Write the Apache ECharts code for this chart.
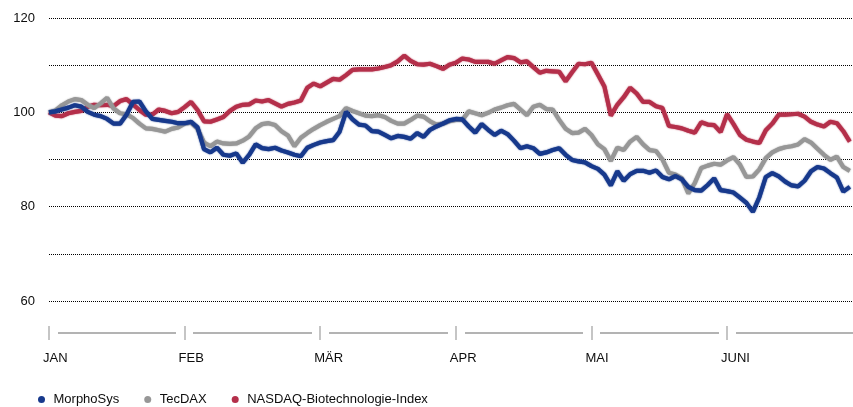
<!DOCTYPE html>
<html>
<head>
<meta charset="utf-8">
<script src="https://cdn.jsdelivr.net/npm/echarts@6/dist/echarts.min.js"></script>
<style>
html,body{margin:0;padding:0;background:#fff;}
#chart{width:853px;height:407px;}
</style>
</head>
<body>
<div id="chart"></div>
<script>
// Trading-day index of each month start and month labels
const monthStarts = [0, 21, 42, 63, 84, 105];
const monthLabels = ['JAN', 'FEB', 'MÄR', 'APR', 'MAI', 'JUNI'];
const axisMax = 124.5;
const yTicks = [60, 80, 100, 120];

const seriesNames = ['MorphoSys', 'TecDAX', 'NASDAQ-Biotechnologie-Index'];

const morphoSys = [100,100.2,100.6,101,101.5,101.2,100.1,99.5,99.2,98.6,97.6,97.6,99.5,102.2,102.3,100.2,98.6,98.4,98.2,98,
97.7,97.7,98,96.8,92.2,91.5,92.5,91,90.8,91.3,89.3,91,93.2,92.4,92.2,92.5,91.9,91.5,91,90.7,
92.5,93.1,93.6,93.9,94.1,95.9,100.1,98.5,97.4,97.2,96,95.9,95.2,94.5,95,94.8,94.4,95.6,94.8,96.3,
97,97.6,98.3,98.6,98.5,97,95.7,97.5,96.3,95.2,96.1,95.4,94,92.4,92.8,92.4,91.2,91.5,92,92.4,
91,89.9,89.6,89.4,88.6,88,86.8,84.5,87.5,85.5,86.9,87.6,87.6,87.2,87.7,86.3,85.8,86.5,85.8,84.2,
83.5,83.4,84.6,86,83.5,83.3,83,81.9,80.8,78.9,82,86.3,87.1,86.4,85.3,84.5,84.3,85.5,87.5,88.4,
88.1,87.1,86.2,83.2,84.2];

const tecDAX = [100,100.4,101.5,102.3,102.8,102.6,101.6,100.9,101.9,103.1,100.8,99.8,99.6,98.8,97.6,96.6,96.5,96.2,95.9,96.5,
96.8,97.6,97.8,96.5,93.6,92.8,93.8,93.4,93.3,93.4,94,94.9,96.6,97.5,97.7,97.3,96,95.1,92.8,94.6,
95.6,96.5,97.3,98,98.6,99.2,100.9,100.3,99.8,99.3,99.2,99.4,99,98.2,97.6,97.6,98.4,99.3,99.1,98.1,
97.4,97.6,98.1,98.4,98.4,100.2,99.8,99.4,99.9,100.6,101,101.5,101.8,100.6,99.4,101.2,101.6,100.7,100.6,98.4,
96.5,95.6,95.7,96.5,95.2,93.2,92.2,89.7,92.5,92,93.8,94.8,93.2,92,91.8,90,87.2,86.8,86,82.8,
85,88.2,88.7,89.1,88.9,89.8,90.5,88.9,86.3,86.4,87.9,90.3,91.5,92.2,92.6,92.8,93.2,94.3,93.6,92.3,
91,89.9,90.6,88.4,87.6];

const nasdaqBiotech = [100,99.3,99.2,99.8,100.1,100.3,101.2,101.6,101.5,101.6,101.3,102.4,102.8,101.7,100.5,99.5,99.5,100.6,100.3,99.8,
100.1,101.1,102.2,100.5,98.1,98,98.5,99,100.3,101.2,101.6,101.7,102.5,102.3,102.6,101.9,101.2,101.8,102.1,102.5,
105.2,106.1,105.5,106.3,107.1,106.9,107.9,109,109.1,109.1,109.1,109.3,109.6,110,110.8,112,110.9,110.2,110.1,110.3,
109.8,109.2,110.1,110.5,111.4,111.2,110.7,110.7,110.7,110.3,111,111.7,111.5,110.6,110.8,109.6,108.4,108.8,108.7,108.6,
106.6,108.5,110.3,110.2,110.5,108,105.5,99.3,101.6,103.2,105.2,104,102.2,102.2,101.3,100.9,97.1,96.9,96.6,96.1,
95.7,97.9,97.4,97.3,95.8,99.6,97.5,95.2,94.2,93.8,93.5,96.2,97.6,99.5,99.5,99.6,99.7,99.1,98,97.4,
97,98,97.7,96,93.8];

const colors = {
  'MorphoSys': '#17398c',
  'TecDAX': '#979797',
  'NASDAQ-Biotechnologie-Index': '#b42f4a'
};

const toPairs = arr => arr.map((v, i) => [i, v]);
const FONT = 'Liberation Sans, Arial, sans-serif';
const TEXT = '#0d0d0d';

const chart = echarts.init(document.getElementById('chart'), null, {renderer: 'canvas'});

const lineSeries = (name, data) => ({
  name: name,
  type: 'line',
  xAxisIndex: 0,
  yAxisIndex: 0,
  data: toPairs(data),
  showSymbol: false,
  symbol: 'none',
  smooth: false,
  lineStyle: {color: colors[name], width: 4.2, shadowColor: colors[name], shadowBlur: 1.5},
  itemStyle: {color: colors[name]},
  animation: false
});

const option = {
  backgroundColor: '#fff',
  animation: false,
  textStyle: {fontFamily: FONT},
  grid: [
    {left: 49, right: 0, top: 18, bottom: 106, containLabel: false},
    {left: 43, right: 6, top: 18, bottom: 106, containLabel: false}
  ],
  legend: {
    left: 33,
    top: 388,
    icon: 'circle',
    itemWidth: 14,
    itemHeight: 7,
    itemGap: 25,
    textStyle: {fontSize: 13, color: TEXT, fontFamily: FONT},
    data: seriesNames
  },
  xAxis: [
    { // data axis
      type: 'value', gridIndex: 0, min: 0, max: axisMax, show: false
    },
    { // grey baseline
      type: 'value', gridIndex: 0, min: 0, max: axisMax, position: 'bottom', offset: 32, z: 1,
      axisLine: {show: true, lineStyle: {color: '#b3b3b3', width: 2}},
      axisTick: {show: false}, axisLabel: {show: false}, splitLine: {show: false}
    },
    { // white gaps around month ticks
      type: 'value', gridIndex: 0, min: 0, max: axisMax, position: 'bottom', offset: 35, z: 2,
      axisLine: {show: false},
      axisTick: {show: true, inside: true, length: 5, customValues: monthStarts,
                 lineStyle: {color: '#ffffff', width: 17}},
      axisLabel: {show: false}, splitLine: {show: false}
    },
    { // month tick marks
      type: 'value', gridIndex: 0, min: 0, max: axisMax, position: 'bottom', offset: 39, z: 3,
      axisLine: {show: false},
      axisTick: {show: true, inside: true, length: 14, customValues: monthStarts,
                 lineStyle: {color: '#b3b3b3', width: 1.5}},
      axisLabel: {show: false}, splitLine: {show: false}
    },
    { // month labels
      type: 'value', gridIndex: 1, min: 0, max: axisMax, position: 'bottom', offset: 39,
      axisLine: {show: false}, axisTick: {show: false}, splitLine: {show: false},
      axisLabel: {show: true, customValues: monthStarts, margin: 12, align: 'left',
                  fontSize: 13, color: TEXT, fontFamily: FONT,
                  formatter: v => monthLabels[monthStarts.indexOf(v)] || ''}
    }
  ],
  yAxis: [
    {
      type: 'value', gridIndex: 0, min: 60, max: 120, interval: 10,
      axisLine: {show: false}, axisTick: {show: false},
      axisLabel: {margin: 14, fontSize: 13, color: TEXT, fontFamily: FONT,
                  formatter: v => yTicks.includes(v) ? String(v) : ''},
      splitLine: {show: true, lineStyle: {color: '#000', width: 1, type: [1, 1]}}
    },
    {type: 'value', gridIndex: 1, min: 60, max: 120, show: false}
  ],
  series: [
    lineSeries('NASDAQ-Biotechnologie-Index', nasdaqBiotech),
    lineSeries('TecDAX', tecDAX),
    lineSeries('MorphoSys', morphoSys)
  ]
};

chart.setOption(option);
</script>
</body>
</html>
